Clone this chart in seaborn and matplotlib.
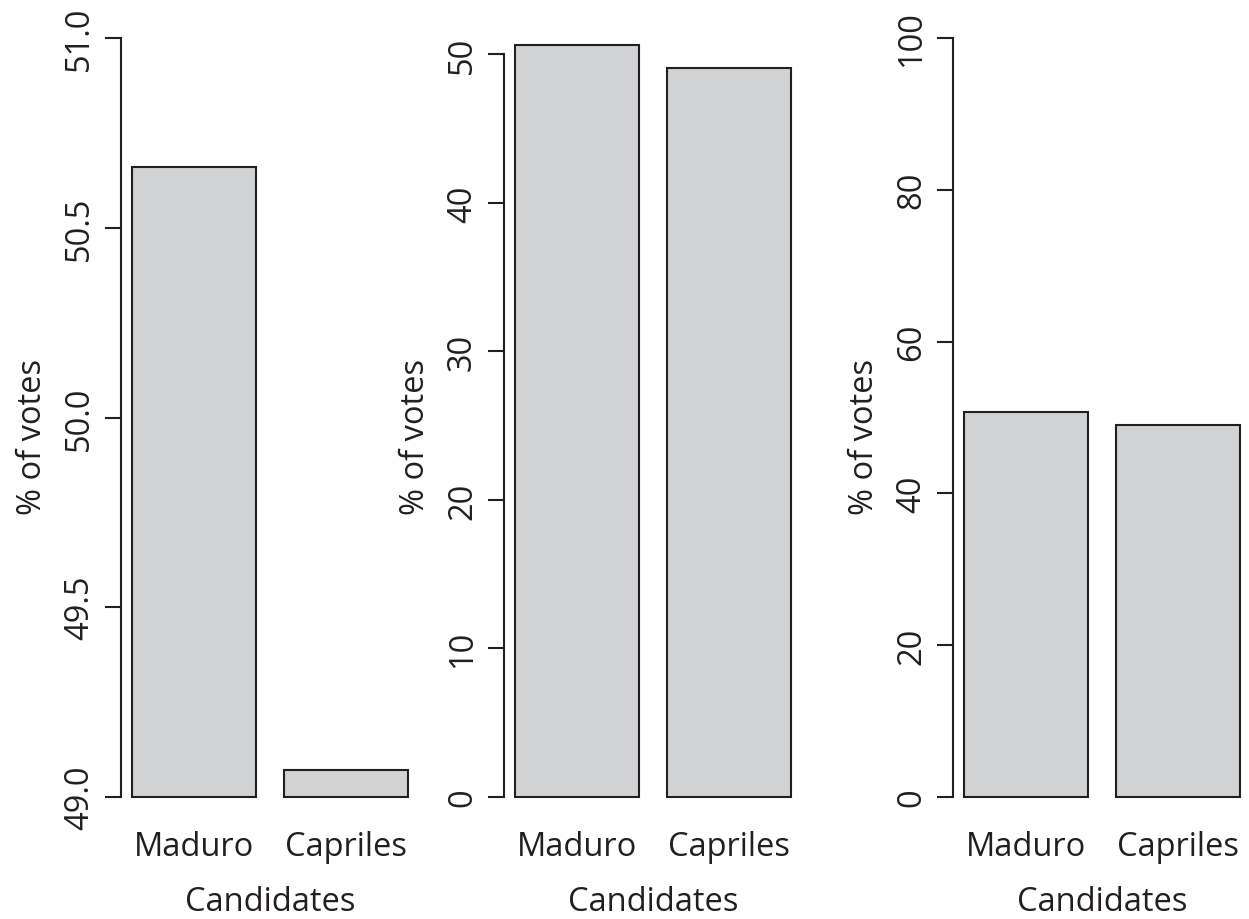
import matplotlib
matplotlib.use("Agg")
import matplotlib.pyplot as plt
import seaborn as sns
import pandas as pd

# ---- data ----
candidates = ["Maduro", "Capriles"]
votes_pct = [50.66, 49.07]

left_ticks = [49.0, 49.5, 50.0, 50.5, 51.0]
left_tick_labels = ["49.0", "49.5", "50.0", "50.5", "51.0"]
mid_ticks = [0, 10, 20, 30, 40, 50]
mid_tick_labels = ["0", "10", "20", "30", "40", "50"]
right_ticks = [0, 20, 40, 60, 80, 100]
right_tick_labels = ["0", "20", "40", "60", "80", "100"]

x_label = "Candidates"
y_label = "% of votes"

# ---- style ----
sns.set_theme(style="white")
plt.rcParams["font.family"] = ["Open Sans", "DejaVu Sans"]
FILL = "#d1d2d4"
EDGE = "#231f20"
FS = 23.5

df = pd.DataFrame({"Candidate": candidates, "Votes": votes_pct})

W, H = 1249, 920
fig = plt.figure(figsize=(W / 100, H / 100), dpi=100)
fig.patch.set_facecolor("white")

panels = [
    (121, (49.0, 51.0), left_ticks, left_tick_labels),
    (504, (0.0, 51.1), mid_ticks, mid_tick_labels),
    (953, (0.0, 100.0), right_ticks, right_tick_labels),
]

ax_bottom_px, ax_top_px = 798, 39
ax_w_px = 298
for left_px, ylim, ticks, tlabels in panels:
    ax = fig.add_axes([left_px / W, (H - ax_bottom_px) / H,
                       ax_w_px / W, (ax_bottom_px - ax_top_px) / H])
    sns.barplot(data=df, x="Candidate", y="Votes", color=FILL, saturation=1,
                width=0.81, edgecolor=EDGE, linewidth=1.5, ax=ax)
    ax.set_xlim(-0.48, 1.48)
    ax.set_ylim(*ylim)
    floor = ylim[0]
    for p in ax.patches:
        top = p.get_y() + p.get_height()
        p.set_y(floor)
        p.set_height(top - floor)
        p.set_clip_on(False)
    ax.set_yticks(ticks)
    ax.set_yticklabels(tlabels)
    for side in ["top", "right", "bottom"]:
        ax.spines[side].set_visible(False)
    ax.spines["left"].set_bounds(ticks[0], ticks[-1])
    ax.spines["left"].set_linewidth(1.5)
    ax.spines["left"].set_color(EDGE)
    ax.tick_params(axis="y", left=True, length=11.5, width=1.5, pad=6.5,
                   labelsize=FS, color=EDGE, labelcolor=EDGE)
    ax.tick_params(axis="x", length=0, pad=24, labelsize=FS, labelcolor=EDGE)
    plt.setp(ax.get_yticklabels(), rotation=90, va="center", ha="right")
    ax.set_xlabel(x_label, fontsize=FS, color=EDGE)
    ax.xaxis.set_label_coords(0.5, -0.1153)
    ax.set_ylabel(y_label, fontsize=FS, color=EDGE)
    ax.yaxis.set_label_coords(-0.242, 0.4756)
    ax.set_facecolor("none")

fig.savefig("out.png", dpi=100)
